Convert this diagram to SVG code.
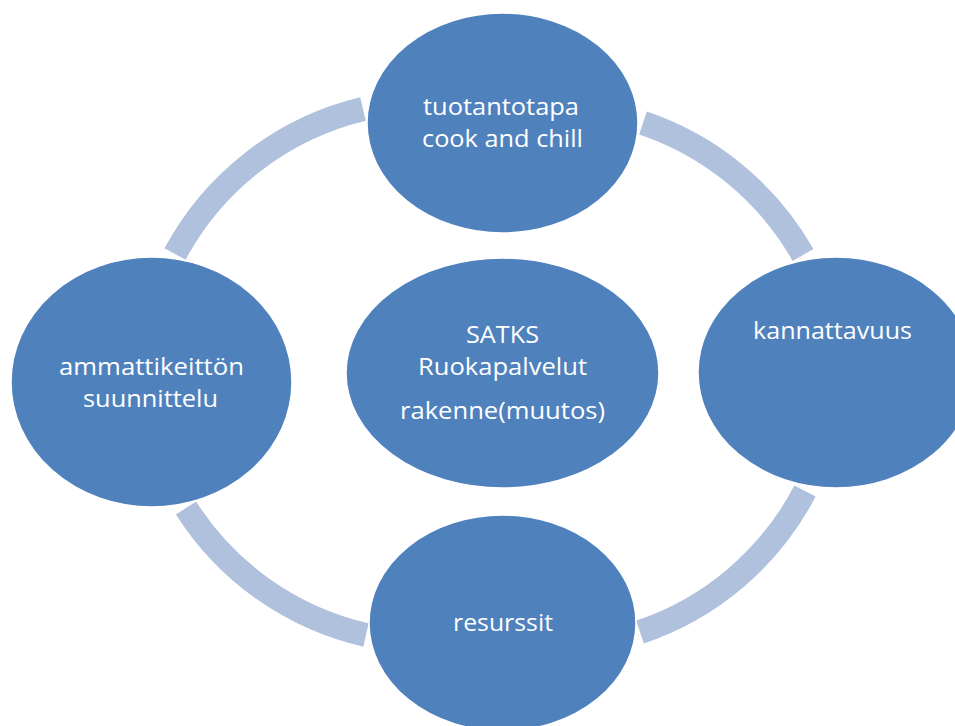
<svg xmlns="http://www.w3.org/2000/svg" width="955" height="726" viewBox="0 0 955 726">
  <style>
    .arc { fill: none; stroke: #B0C1DD; stroke-width: 24; stroke-linecap: butt; }
    .node { fill: #4F81BD; stroke: #FFFFFF; stroke-width: 1.5; }
    .lbl { font-family: "Open Sans", "Liberation Sans", sans-serif; font-size: 23px; fill: #FFFFFF; text-anchor: middle; }
  </style>
  <rect width="955" height="726" fill="#FFFFFF"/>
  <g id="connectors">
    <path class="arc" d="M363,109 A290,290 0 0 0 175,254"/>
    <path class="arc" d="M643,123 A290,290 0 0 1 803,255"/>
    <path class="arc" d="M805,491 A290,290 0 0 1 640,632"/>
    <path class="arc" d="M186,508 A290,290 0 0 0 366,635"/>
  </g>
  <g id="node-top">
    <ellipse class="node" cx="502.5" cy="123" rx="135.5" ry="110"/>
    <text class="lbl" x="501" y="115" textLength="156" lengthAdjust="spacingAndGlyphs">tuotantotapa</text>
    <text class="lbl" x="502.5" y="147" textLength="161" lengthAdjust="spacingAndGlyphs">cook and chill</text>
  </g>
  <g id="node-right">
    <ellipse class="node" cx="836" cy="372.5" rx="138" ry="115.5"/>
    <text class="lbl" x="832.5" y="339" textLength="159" lengthAdjust="spacingAndGlyphs">kannattavuus</text>
  </g>
  <g id="node-left">
    <ellipse class="node" cx="151.5" cy="382" rx="140.5" ry="125"/>
    <text class="lbl" x="151.5" y="375" textLength="185" lengthAdjust="spacingAndGlyphs">ammattikeittön</text>
    <text class="lbl" x="150.5" y="407" textLength="135" lengthAdjust="spacingAndGlyphs">suunnittelu</text>
  </g>
  <g id="node-center">
    <ellipse class="node" cx="502.5" cy="373" rx="156.5" ry="115"/>
    <text class="lbl" x="502.5" y="343" textLength="73" lengthAdjust="spacingAndGlyphs">SATKS</text>
    <text class="lbl" x="502.5" y="375" textLength="169" lengthAdjust="spacingAndGlyphs">Ruokapalvelut</text>
    <text class="lbl" x="502.5" y="419" textLength="205" lengthAdjust="spacingAndGlyphs">rakenne(muutos)</text>
  </g>
  <g id="node-bottom">
    <ellipse class="node" cx="502.5" cy="623" rx="133.5" ry="108"/>
    <text class="lbl" x="503" y="631" textLength="100" lengthAdjust="spacingAndGlyphs">resurssit</text>
  </g>
</svg>
